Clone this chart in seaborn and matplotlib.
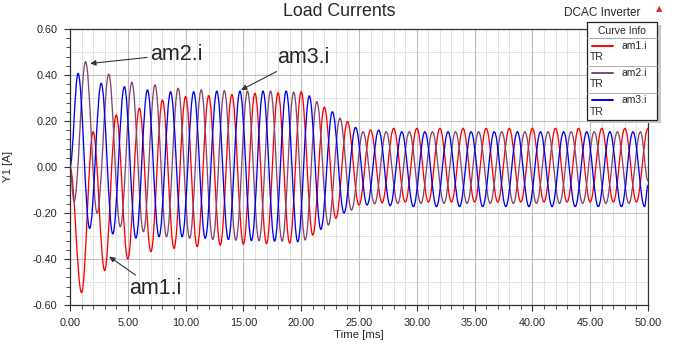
import numpy as np
import pandas as pd
import seaborn as sns
import matplotlib.pyplot as plt
from matplotlib.ticker import MultipleLocator, FormatStrFormatter
from matplotlib.patches import Rectangle, PathPatch
from matplotlib.lines import Line2D
from matplotlib.path import Path

# Extrema of each load current (one every half period = 1 ms)
red_t = np.arange(0, 51) * 1.0
red_v = [0.0, -0.546, 0.153, -0.450, 0.226, -0.400, 0.255, -0.368, 0.291, -0.354, 0.306,
         -0.346, 0.310, -0.340, 0.315, -0.335, 0.320, -0.333, 0.322, -0.330, 0.327,
         -0.296, 0.260, -0.223, 0.197, -0.165, 0.161, -0.155, 0.168, -0.152, 0.168,
         -0.152, 0.168, -0.152, 0.168, -0.152, 0.168, -0.152, 0.168, -0.152, 0.168,
         -0.152, 0.168, -0.152, 0.168, -0.152, 0.168, -0.152, 0.168, -0.152, 0.168]

purple_t = np.r_[0.0, np.arange(50) + 0.35, 50.0]
purple_v = [0.0,
            -0.150, 0.458, -0.201, 0.404, -0.260, 0.368, -0.281, 0.357, -0.303, 0.342,
            -0.310, 0.335, -0.315, 0.332, -0.318, 0.330, -0.320, 0.330, -0.322, 0.325,
            -0.317, 0.284, -0.252, 0.212, -0.187, 0.153, -0.160, 0.153, -0.158, 0.153,
            -0.158, 0.153, -0.158, 0.153, -0.158, 0.153, -0.158, 0.153, -0.158, 0.153,
            -0.158, 0.153, -0.158, 0.153, -0.158, 0.153, -0.158, 0.153, -0.158, 0.153,
            -0.06]

blue_t = np.r_[0.0, np.arange(50) + 0.7, 50.0]
blue_v = [0.0,
          0.407, -0.267, 0.364, -0.291, 0.349, -0.309, 0.335, -0.303, 0.327, -0.303,
          0.327, -0.310, 0.330, -0.315, 0.330, -0.320, 0.330, -0.322, 0.330, -0.325,
          0.309, -0.271, 0.240, -0.200, 0.172, -0.165, 0.160, -0.168, 0.153, -0.172,
          0.153, -0.172, 0.153, -0.172, 0.153, -0.172, 0.153, -0.172, 0.153, -0.172,
          0.153, -0.172, 0.153, -0.172, 0.153, -0.172, 0.153, -0.172, 0.153, -0.172,
          -0.08]

curves = ['am1.i', 'am2.i', 'am3.i']
colors = {'am1.i': '#ff0000', 'am2.i': '#83466f', 'am3.i': '#0000f0'}

df = pd.concat([
    pd.DataFrame({'t': red_t, 'v': red_v, 'curve': 'am1.i'}),
    pd.DataFrame({'t': purple_t, 'v': purple_v, 'curve': 'am2.i'}),
    pd.DataFrame({'t': blue_t, 'v': blue_v, 'curve': 'am3.i'}),
], ignore_index=True)

sns.set_style('white')
plt.rcParams['font.family'] = ['Liberation Sans', 'DejaVu Sans']

W, H = 675, 344
def fp(x, y):
    return x / W, 1 - y / H

fig = plt.figure(figsize=(6.75, 3.44), dpi=100)
ax = fig.add_axes([70 / W, 1 - 305 / H, 578 / W, 276 / H])

sns.lineplot(data=df, x='t', y='v', hue='curve', palette=colors, hue_order=curves,
             estimator=None, sort=False, legend=False, linewidth=0.95, ax=ax)

# draw the seaborn lines as smooth curves through the same points (flat at each extremum)
for ln in list(ax.lines):
    xs, ys = ln.get_xdata(), ln.get_ydata()
    verts, codes = [(xs[0], ys[0])], [Path.MOVETO]
    for i in range(len(xs) - 1):
        d = 0.364 * (xs[i + 1] - xs[i])
        verts += [(xs[i] + d, ys[i]), (xs[i + 1] - d, ys[i + 1]), (xs[i + 1], ys[i + 1])]
        codes += [Path.CURVE4] * 3
    ax.add_patch(PathPatch(Path(verts, codes), facecolor='none', edgecolor=ln.get_color(),
                           linewidth=ln.get_linewidth(), zorder=ln.get_zorder()))
    ln.set_visible(False)

ax.set_xlim(0, 50)
ax.set_ylim(-0.6, 0.6)
ax.xaxis.set_major_locator(MultipleLocator(5))
ax.xaxis.set_minor_locator(MultipleLocator(1))
ax.yaxis.set_major_locator(MultipleLocator(0.2))
ax.yaxis.set_minor_locator(MultipleLocator(0.04))
ax.xaxis.set_major_formatter(FormatStrFormatter('%.2f'))
ax.yaxis.set_major_formatter(FormatStrFormatter('%.2f'))

ax.grid(which='major', color='#bdbdbd', linewidth=0.8)
ax.grid(which='minor', axis='x', color='#e3e3e3', linewidth=0.7)
for yv in np.arange(-0.5, 0.6, 0.2):
    ax.axhline(yv, color='#e3e3e3', linewidth=0.7, zorder=0)
ax.set_axisbelow(True)

ax.tick_params(which='major', direction='out', length=4, width=0.8, color='#333333',
               labelsize=7.8, bottom=True, left=True)
ax.tick_params(axis='x', which='major', pad=5)
ax.tick_params(axis='y', which='major', pad=5)
ax.tick_params(which='minor', direction='out', length=3, width=0.6, color='#333333',
               bottom=True, left=True)
for s in ax.spines.values():
    s.set_color('#333333')
    s.set_linewidth(0.9)

ax.set_xlabel('Time [ms]', fontsize=8.2, labelpad=2)
ax.set_ylabel('Y1 [A]', fontsize=8.2)
ax.yaxis.set_label_coords(-0.098, 0.5)

fig.text(*fp(339, 12), 'Load Currents', ha='center', va='center', fontsize=12.8)
fig.text(*fp(602, 13), 'DCAC Inverter', ha='center', va='center', fontsize=8.5)
fig.text(*fp(659, 9), '\u25b2', ha='center', va='center', fontsize=6, color='#cc3333',
         family='DejaVu Sans')

arrow = dict(arrowstyle='-|>', color='#333333', lw=0.8, mutation_scale=8, shrinkA=0, shrinkB=0)
ann_font = dict(fontsize=15.5, ha='left', va='center')
ax.annotate('am2.i', xy=(1.75, 0.45), xytext=(6.95, 0.49), arrowprops=arrow, **ann_font)
ax.annotate('am3.i', xy=(14.8, 0.335), xytext=(17.9, 0.475), arrowprops=arrow, **ann_font)
ax.annotate('am1.i', xy=(3.4, -0.39), xytext=(5.1, -0.53), arrowprops=arrow, **ann_font)

# "Curve Info" box
x0, y0, x1, y1 = 587, 22, 657, 120
fig.add_artist(Rectangle(fp(x0 + 4, y1 + 3), (x1 - x0) / W, (y1 - y0) / H,
                         transform=fig.transFigure, facecolor='#c8c8c8', edgecolor='none', zorder=5))
fig.add_artist(Rectangle(fp(x0, y1), (x1 - x0) / W, (y1 - y0) / H, transform=fig.transFigure,
                         facecolor='white', edgecolor='#222222', linewidth=0.9, zorder=6))
fig.text(*fp((x0 + x1) / 2, 30.5), 'Curve Info', ha='center', va='center', fontsize=7.5, zorder=7)
for ys in [38.3, 65.7, 92.7]:
    fig.add_artist(Line2D([x0 / W, x1 / W], [1 - ys / H] * 2, transform=fig.transFigure,
                          color='#aaaaaa', linewidth=0.7, zorder=7))
for i, c in enumerate(curves):
    yl = 45.7 + i * 27.2
    fig.add_artist(Line2D([592 / W, 613 / W], [1 - yl / H] * 2, transform=fig.transFigure,
                          color=colors[c], linewidth=1.4, zorder=7))
    fig.text(*fp(621, yl), c, ha='left', va='center', fontsize=7.5, zorder=7)
    fig.text(*fp(590, yl + 11.5), 'TR', ha='left', va='center', fontsize=7.5, zorder=7)

fig.savefig('out.png', dpi=100, facecolor='white')
